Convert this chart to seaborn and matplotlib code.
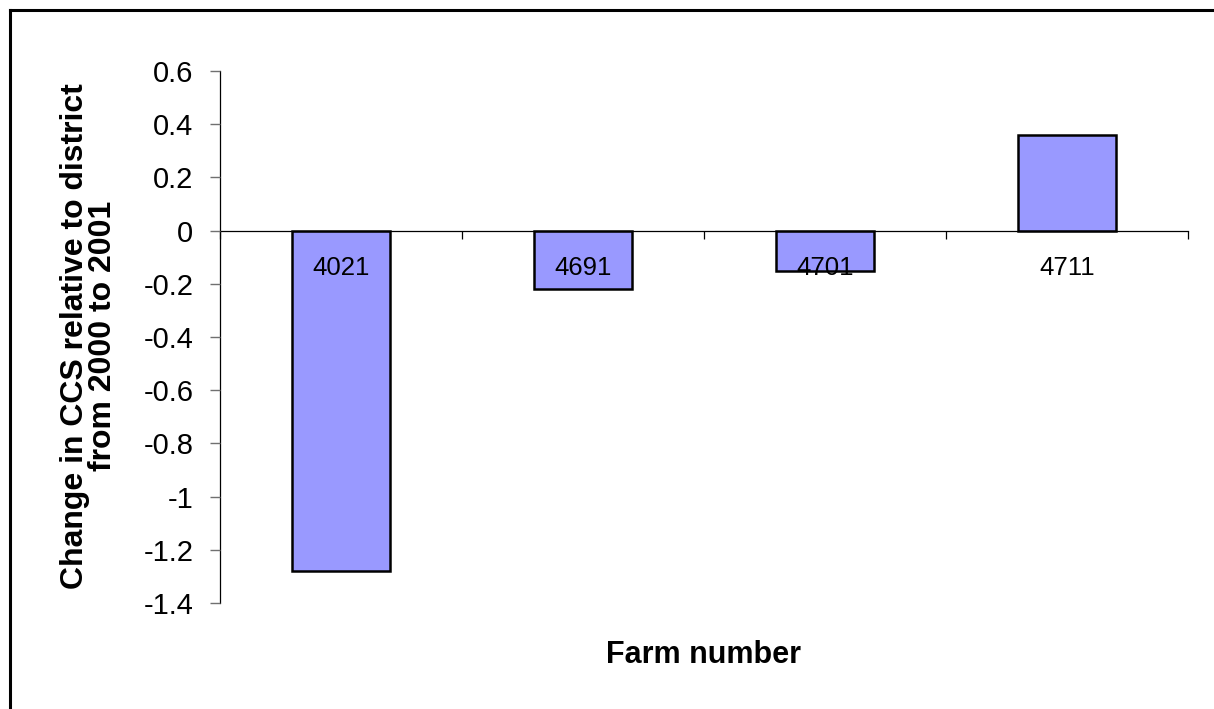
import matplotlib
matplotlib.use("Agg")
import matplotlib.pyplot as plt
from matplotlib.lines import Line2D
from matplotlib.ticker import MultipleLocator, FixedLocator
import seaborn as sns

# Farm-level change in CCS relative to the district average, 2000 -> 2001
farms = ["4021", "4691", "4701", "4711"]
ccs_change = [-1.28, -0.22, -0.15, 0.36]
y_ticks = [0.6, 0.4, 0.2, 0.0, -0.2, -0.4, -0.6, -0.8, -1.0, -1.2, -1.4]
y_tick_labels = ["0.6", "0.4", "0.2", "0", "-0.2", "-0.4", "-0.6", "-0.8", "-1", "-1.2", "-1.4"]

sns.set_theme(style="white", rc={"text.color": "black", "axes.labelcolor": "black",
                                 "xtick.color": "black", "ytick.color": "black"})
plt.rcParams["font.family"] = ["Liberation Sans", "DejaVu Sans"]

fig = plt.figure(figsize=(12.14, 7.09), dpi=100)
ax = fig.add_axes([220 / 1214, 1 - 603 / 709, 968 / 1214, 532 / 709])

sns.barplot(x=farms, y=ccs_change, color="#9999FF", saturation=1,
            edgecolor="black", linewidth=1.8, width=0.405, ax=ax)

ax.set_xlim(-0.5, len(farms) - 0.5)
ax.set_ylim(-1.4, 0.6)
# category labels are drawn on top of the bars
ax.set_axisbelow(False)

# y axis
ax.yaxis.set_major_locator(FixedLocator(y_ticks))
ax.set_yticklabels(y_tick_labels)
ax.tick_params(axis="y", which="major", direction="out", length=7.2, width=1,
               color="#707070", labelcolor="black", labelsize=21, pad=12, left=True)

# x axis sits on the zero line; ticks mark category boundaries
ax.spines["bottom"].set_position(("data", 0))
ax.spines["top"].set_visible(False)
ax.spines["right"].set_visible(False)
for side in ("left", "bottom"):
    ax.spines[side].set_color("black")
    ax.spines[side].set_linewidth(0.9)
ax.xaxis.set_minor_locator(MultipleLocator(1.0, offset=0.5))
ax.tick_params(axis="x", which="major", length=0, labelsize=18.5, pad=18.5,
               labelcolor="black")
ax.tick_params(axis="x", which="minor", direction="out", length=5.8, width=0.9,
               color="black", bottom=True)
ax.set_xlabel("")
ax.set_ylabel("")
ax.grid(False)

fig.text(89 / 1214, 1 - 336 / 709,
         "Change in CCS relative to district\nfrom 2000 to 2001",
         rotation=90, ha="center", va="center", fontsize=23,
         fontweight="bold", linespacing=0.92, color="black")
fig.text(704 / 1214, 1 - 655 / 709, "Farm number", ha="center", va="center",
         fontsize=22, fontweight="bold", color="black")

# chart frame (left and top edges)
fig.add_artist(Line2D([10 / 1214, 10 / 1214], [0, 1 - 10 / 709],
                      transform=fig.transFigure, color="black", lw=2.2,
                      solid_capstyle="projecting"))
fig.add_artist(Line2D([10 / 1214, 1], [1 - 10 / 709, 1 - 10 / 709],
                      transform=fig.transFigure, color="black", lw=2.2,
                      solid_capstyle="projecting"))

fig.savefig("out.png", dpi=100, facecolor="white")
